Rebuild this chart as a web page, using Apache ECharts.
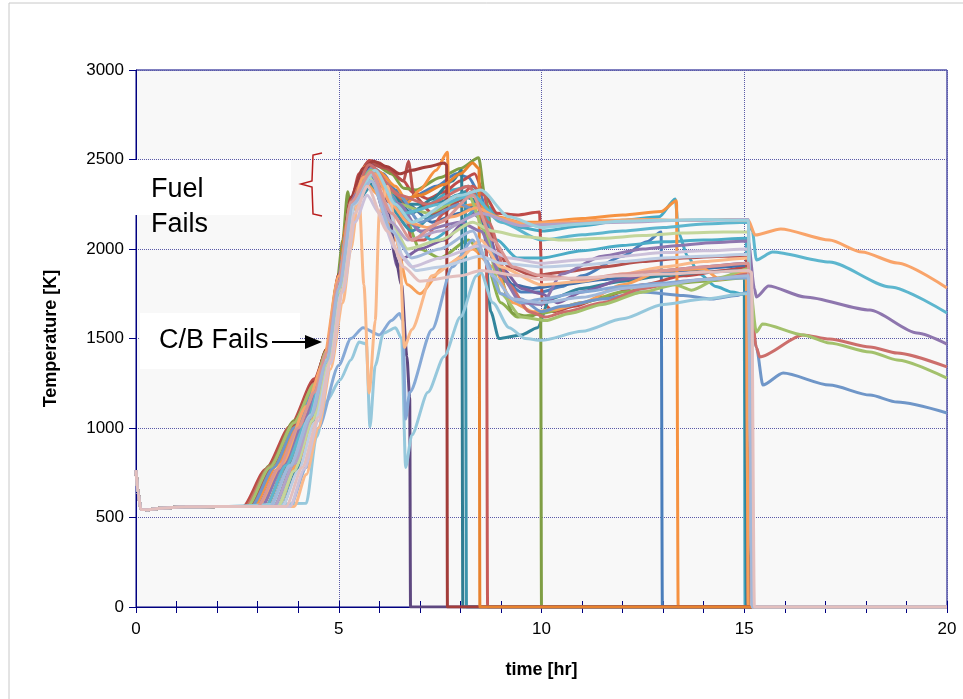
<!DOCTYPE html>
<html>
<head>
<meta charset="utf-8">
<script src="https://cdn.jsdelivr.net/npm/echarts@6/dist/echarts.min.js"></script>
<style>
  html, body { margin: 0; padding: 0; background: #fff; }
  #chart { width: 963px; height: 699px; }
</style>
</head>
<body>
<div id="chart"></div>
<script>
// time [hr], temperature [K]
const warmup = [[0, 765], [0.05, 640], [0.12, 545], [0.3, 543], [0.6, 552], [1.2, 560], [2.0, 561]];

const blueA = [[2.85,562],[3.4,790],[3.9,1010],[4.4,1230],[4.7,1420],[5.0,1850],[5.3,2280],[5.55,2420],[5.8,2460],[6.1,2420],[6.4,2330],[6.65,2270],[6.9,2300],[7.4,2350],[7.9,2420],[8.2,2400],[8.5,2300],[8.8,2000],[9.1,1820],[9.5,1760],[10.0,1760],[10.5,1790],[11.0,1850],[12.0,1960],[12.6,2040],[12.95,2095],[12.98,0],[20,0]];
const aquaA = [[3.1,562],[3.6,780],[4.1,1010],[4.5,1230],[4.8,1480],[5.1,1950],[5.35,2280],[5.7,2420],[6.0,2380],[6.4,2250],[6.7,2200],[7.2,2250],[7.8,2330],[8.2,2350],[8.6,2250],[9.0,2170],[9.5,2120],[10,2100],[11,2130],[12,2160],[12.9,2180],[13.3,2280],[13.38,2090],[13.6,1960],[13.9,1860],[14.3,1790],[14.7,1760],[15.0,1745],[15.02,0],[20,0]];
const redA = [[2.64,562],[3.2,770],[3.8,1010],[4.4,1275],[4.7,1430],[5.0,1830],[5.3,2260],[5.5,2420],[5.75,2495],[6.0,2480],[6.3,2420],[6.6,2380],[6.8,2320],[7.2,2280],[7.6,2320],[8.0,2380],[8.35,2420],[8.6,2300],[8.9,2200],[9.4,2190],[9.95,2207],[10.02,1700],[10.3,1650],[10.8,1680],[11.5,1730],[12.5,1800],[13.5,1850],[14.5,1880],[15.05,1900],[15.1,0],[20,0]];
const blueB = [[3.0,562],[3.5,770],[4.0,1000],[4.4,1200],[4.7,1410],[5.0,1820],[5.3,2260],[5.75,2440],[6.3,2300],[6.7,2250],[7.3,2150],[8.0,2200],[8.4,2250],[8.8,1950],[9.3,1800],[9.8,1780],[10.5,1800],[11.5,1830],[12.5,1850],[13.5,1880],[14.5,1900],[15.05,1910],[15.1,0],[20,0]];
const tealC = [[3.6,562],[4.0,780],[4.4,1040],[4.75,1360],[5.05,1780],[5.4,2260],[5.9,2380],[6.3,2300],[6.7,2250],[7.3,2250],[8.0,2300],[8.3,2280],[8.55,2200],[8.75,1650],[8.95,1500],[9.5,1520],[9.9,1560],[10.2,1720],[11,1780],[12,1820],[13,1850],[14,1870],[15.0,1880],[15.06,0],[20,0]];
const greenB = [[2.9,562],[3.45,790],[3.95,1020],[4.4,1230],[4.7,1420],[5.0,1830],[5.3,2270],[5.7,2430],[6.2,2350],[6.6,2200],[7.0,2000],[7.5,1950],[8.2,2050],[8.6,1950],[9.0,1700],[9.4,1620],[10.0,1640],[11,1700],[12,1760],[13,1800],[14,1820],[15.05,1840],[15.1,0],[20,0]];
const greenA = [[2.7,562],[3.3,790],[3.9,1040],[4.4,1250],[4.7,1440],[4.95,1800],[5.1,2050],[5.22,2320],[5.3,2200],[5.5,2380],[5.9,2470],[6.3,2420],[6.6,2340],[6.9,2330],[7.5,2400],[8.0,2450],[8.45,2510],[8.6,2300],[8.9,1900],[9.3,1640],[9.7,1620],[9.98,1645],[10.0,0],[20,0]];
const redB = [[3.4,562],[3.9,810],[4.35,1080],[4.7,1370],[5.0,1760],[5.35,2250],[5.9,2420],[6.3,2330],[6.6,2250],[6.8,2050],[7.1,2050],[7.6,2200],[8.0,2300],[8.3,2350],[8.6,2300],[8.64,2250],[8.67,0],[20,0]];
const purpleB = [[3.2,562],[3.7,790],[4.2,1040],[4.6,1300],[4.9,1650],[5.2,2150],[5.5,2330],[5.8,2400],[6.2,2150],[6.45,1900],[6.6,1950],[7.0,2000],[7.6,2050],[8.3,2200],[8.6,2150],[9.0,1900],[9.5,1780],[10,1750],[10.4,1700],[11,1760],[12,1830],[13,1880],[14,1900],[15.05,1920],[15.1,0],[20,0]];
const tealA = [[3.3,562],[3.8,800],[4.3,1080],[4.7,1380],[5.0,1760],[5.35,2250],[5.6,2360],[5.9,2400],[6.3,2300],[6.8,2200],[7.3,2280],[7.8,2380],[8.03,2440],[8.06,0],[20,0]];
const tealB = [[3.5,562],[4.0,820],[4.4,1060],[4.75,1380],[5.05,1800],[5.4,2250],[5.8,2350],[6.2,2250],[6.8,2100],[7.4,2200],[7.9,2300],[8.12,2320],[8.15,0],[20,0]];
const aquaB = [[3.4,562],[3.9,800],[4.35,1070],[4.7,1370],[5.0,1770],[5.35,2250],[5.8,2420],[6.3,2300],[6.7,2150],[7.3,2050],[8.0,2150],[8.5,2250],[8.9,2050],[9.4,1950],[10,1950],[11,1990],[12,2020],[13,2040],[14,2050],[15.05,2060],[15.1,0],[20,0]];
const redD = [[2.8,562],[3.35,780],[3.9,1020],[4.4,1250],[4.7,1430],[5.0,1850],[5.3,2280],[5.7,2480],[6.2,2450],[6.6,2380],[6.72,2490],[6.85,2300],[7.3,2200],[7.8,2250],[8.3,2320],[8.7,2100],[9.2,1900],[9.8,1850],[10.5,1870],[11.5,1900],[12.5,1930],[13.5,1950],[14.5,1960],[15.05,1960],[15.1,0],[20,0]];
const orangeC = [[3.5,562],[3.95,790],[4.4,1060],[4.75,1380],[5.05,1800],[5.35,2250],[5.6,2380],[6.0,2300],[6.4,2050],[6.7,1800],[7.0,1750],[7.6,1900],[8.3,2000],[8.8,1900],[9.3,1700],[9.8,1650],[10.3,1660],[11,1700],[12,1800],[13,1880],[14,1890],[14.4,1830],[15.05,1870],[15.1,0],[20,0]];
const orangeA = [[2.9,562],[3.5,800],[4.0,1010],[4.4,1210],[4.7,1410],[5.0,1820],[5.3,2270],[5.65,2460],[6.0,2430],[6.4,2350],[6.7,2260],[7.0,2330],[7.4,2440],[7.68,2540],[7.72,2230],[8.0,2240],[8.4,2250],[8.9,2180],[9.5,2150],[10,2150],[11,2170],[12,2190],[12.95,2210],[13.33,2270],[13.37,0],[20,0]];
const purpleA = [[3.0,562],[3.5,760],[4.0,990],[4.4,1190],[4.7,1400],[5.0,1800],[5.3,2250],[5.55,2420],[5.8,2470],[6.05,2400],[6.25,2200],[6.4,1950],[6.55,1800],[6.68,1400],[6.75,1170],[6.77,0],[20,0]];
const redC = [[2.75,562],[3.3,780],[3.9,1030],[4.4,1260],[4.7,1440],[5.0,1860],[5.3,2290],[5.6,2450],[5.85,2490],[6.2,2460],[6.5,2420],[6.8,2440],[7.2,2460],[7.6,2480],[7.66,2470],[7.68,0],[20,0]];
const orangeB = [[3.2,562],[3.7,790],[4.2,1040],[4.6,1300],[4.9,1650],[5.2,2150],[5.5,2350],[5.9,2420],[6.3,2330],[6.6,2280],[7.0,2300],[7.6,2360],[8.0,2420],[8.3,2480],[8.46,2450],[8.48,0],[20,0]];

// the six runs that last to 20 hr
const keepBlue = [[2.85,562],[3.4,780],[3.9,1000],[4.4,1220],[4.7,1410],[5.0,1820],[5.3,2260],[5.8,2450],[6.5,2300],[7.0,2150],[8.0,2250],[8.5,2200],[9.0,1850],[9.5,1720],[10,1650],[10.5,1680],[11.5,1720],[12.5,1760],[13.5,1740],[14.2,1720],[14.8,1740],[15.1,1760],[15.3,1450],[15.46,1240],[15.96,1307],[17.1,1240],[18.1,1184],[18.77,1145],[20,1084]];
const keepRed = [[2.7,562],[3.3,785],[3.9,1030],[4.4,1250],[4.7,1430],[5.0,1840],[5.3,2270],[5.75,2470],[6.5,2300],[7.2,2250],[8.2,2350],[8.7,2150],[9.2,1800],[9.7,1650],[10.1,1620],[10.6,1650],[11.5,1700],[12.5,1780],[13.5,1820],[14.5,1840],[15.1,1860],[15.3,1450],[15.38,1397],[16.45,1520],[17.1,1497],[18.1,1453],[18.77,1419],[20,1341]];
const keepGreen = [[2.75,562],[3.3,780],[3.9,1030],[4.4,1245],[4.7,1430],[5.0,1830],[5.3,2260],[5.8,2440],[6.5,2250],[7.2,2200],[8.2,2300],[8.6,2100],[9.0,1750],[9.5,1620],[10.1,1600],[10.7,1640],[11.5,1690],[12.5,1760],[13.3,1800],[13.7,1770],[14.4,1840],[15.1,1890],[15.3,1536],[15.45,1581],[16.45,1520],[17.1,1475],[18.1,1425],[18.77,1380],[20,1279]];
const keepPurple = [[3.1,562],[3.6,780],[4.1,1010],[4.5,1240],[4.8,1490],[5.1,1950],[5.4,2300],[5.85,2430],[6.5,2250],[7,2100],[8,2150],[8.5,2100],[9.0,1850],[9.5,1700],[10.0,1690],[10.5,1860],[11.5,1960],[12.5,2000],[13.4,2020],[14.2,2035],[15.1,2045],[15.25,1780],[15.3,1732],[15.6,1793],[16.5,1732],[18.1,1659],[19.26,1531],[20,1469]];
const keepAqua = [[3.2,562],[3.7,790],[4.2,1030],[4.6,1290],[4.9,1620],[5.2,2100],[5.5,2330],[5.9,2420],[6.6,2200],[7.5,2250],[8.3,2300],[9,2150],[10,2050],[11,2080],[12,2100],[13,2120],[14,2140],[15.1,2150],[15.2,2100],[15.3,1939],[15.7,1983],[17.1,1927],[18.6,1788],[20,1642]];
const keepOrange = [[3.0,562],[3.6,800],[4.2,1120],[4.6,1350],[5.0,1850],[5.3,2200],[5.6,2400],[5.9,2420],[6.3,2250],[6.7,2150],[7.2,2120],[7.8,2180],[8.4,2230],[9.0,2170],[9.6,2140],[10.5,2150],[11.5,2160],[12.5,2165],[13.5,2160],[14.5,2165],[15.1,2160],[15.27,2078],[15.9,2112],[17.1,2050],[17.9,1983],[18.77,1922],[20,1782]];

// pale runs drawn last
const skyLow = [[4.2,580],[4.45,950],[4.7,1150],[5.03,1268],[5.3,1380],[5.5,1480],[5.68,1470],[5.77,1005],[5.9,1350],[6.1,1530],[6.4,1560],[6.55,1500],[6.65,780],[6.8,960],[7.2,1200],[7.6,1400],[8.0,1620],[8.4,1850],[8.5,1870],[8.8,1700],[9.2,1560],[9.6,1500],[10.0,1490],[11,1540],[12,1610],[13,1690],[14,1720],[15,1750],[15.18,1750],[15.22,0],[20,0]];
const blueWiggle = [[3.8,562],[4.2,780],[4.5,1000],[5.0,1350],[5.3,1500],[5.6,1560],[6.0,1520],[6.3,1600],[6.5,1640],[6.58,1600],[6.65,1050],[6.75,1200],[7.3,1550],[7.8,1900],[8.3,2050],[8.6,1950],[9.0,1750],[9.5,1700],[10,1720],[11,1760],[12,1790],[13,1810],[14,1830],[15.1,1840],[15.2,0],[20,0]];
const peach = [[3.9,562],[4.2,740],[4.5,1000],[4.8,1330],[5.1,1700],[5.3,2000],[5.5,2300],[5.62,1800],[5.75,1195],[5.9,1600],[6.0,2200],[6.2,2350],[6.5,2000],[6.62,1450],[6.8,1550],[7.3,1850],[8.0,1950],[8.5,2050],[9.0,1900],[10,1800],[11,1820],[12,1860],[13,1900],[14,1930],[15.1,1950],[15.2,0],[20,0]];
const greyBlue = [[3.6,562],[4.0,760],[4.4,1030],[4.75,1350],[5.05,1750],[5.4,2250],[5.8,2380],[6.2,2250],[6.6,1950],[6.9,1880],[7.5,1900],[8.5,1960],[9.0,1920],[10,1900],[11,1910],[12,1930],[13,1950],[14,1960],[15.1,1970],[15.2,0],[20,0]];
const lavender = [[3.8,562],[4.15,770],[4.5,1040],[4.8,1360],[5.1,1760],[5.4,2150],[5.7,2300],[6.0,2200],[6.4,2000],[6.8,1900],[7.5,1950],[8.5,2020],[9.2,1950],[10,1920],[11,1940],[12,1960],[13,1980],[14,1990],[15.1,2000],[15.2,0],[20,0]];
const paleGreen = [[3.5,562],[3.9,760],[4.35,1040],[4.7,1350],[5.0,1760],[5.35,2250],[5.75,2400],[6.3,2150],[6.7,2000],[7.5,2050],[8.3,2150],[8.8,2100],[9.5,2070],[10.5,2050],[11.5,2060],[12.5,2075],[13.5,2090],[14.5,2095],[15.1,2095],[15.2,0],[20,0]];
const palePurple = [[3.4,562],[3.9,800],[4.35,1080],[4.7,1380],[5.0,1780],[5.35,2260],[5.8,2420],[6.3,2150],[6.7,2050],[7.5,2100],[8.5,2200],[9.5,2130],[10.5,2140],[12,2150],[13.5,2160],[15.1,2165],[15.2,0],[20,0]];
const paleAqua = [[3.3,562],[3.8,790],[4.3,1070],[4.7,1380],[5.0,1790],[5.35,2260],[5.9,2440],[6.4,2250],[6.8,2150],[8.0,2300],[8.5,2330],[9.2,2180],[10,2120],[11,2140],[12,2155],[13,2160],[14,2165],[15.1,2160],[15.2,0],[20,0]];
const paleRed = [[3.0,562],[3.5,770],[4.0,1000],[4.4,1200],[4.7,1420],[5.0,1820],[5.3,2260],[5.8,2430],[6.3,2200],[6.8,2050],[7.5,2150],[8.3,2300],[8.8,2050],[9.3,1900],[10,1850],[11,1830],[12,1860],[13,1880],[14,1900],[15.1,1920],[15.2,0],[20,0]];
const paleBlue = [[3.3,562],[3.8,790],[4.3,1060],[4.7,1370],[5.0,1780],[5.35,2250],[5.8,2380],[6.3,2100],[6.8,1950],[7.5,2000],[8.3,2100],[8.8,1850],[9.3,1720],[10,1700],[11,1730],[12,1780],[13,1800],[14,1830],[15.1,1850],[15.2,0],[20,0]];
const pink = [[3.7,562],[4.1,780],[4.5,1060],[4.8,1380],[5.1,1780],[5.4,2200],[5.7,2350],[6.2,2100],[6.6,1900],[7.0,1820],[8.0,1850],[8.5,1880],[9.5,1850],[10,1830],[11,1840],[12,1850],[13,1860],[14,1870],[15.1,1880],[15.18,1870],[15.25,0],[20,0]];

const runs = [
  ['blueA', blueA, '#4A7EBB'], ['aquaA', aquaA, '#46AAC5'], ['redA', redA, '#BE4B48'],
  ['blueB', blueB, '#3E6FAA'], ['tealC', tealC, '#31859C'], ['greenB', greenB, '#8DB04E'],
  ['greenA', greenA, '#7F9E44'], ['redB', redB, '#C75B58'], ['purpleB', purpleB, '#7D60A0'],
  ['tealA', tealA, '#2F7D92'], ['tealB', tealB, '#3B93AB'], ['aquaB', aquaB, '#4BACC6'],
  ['redD', redD, '#B5504D'], ['orangeC', orangeC, '#F7A05A'], ['orangeA', orangeA, '#F69240'],
  ['purpleA', purpleA, '#5E4880'], ['redC', redC, '#A33D3A'], ['orangeB', orangeB, '#E8822E'],
  ['keepBlue', keepBlue, '#6F96C8'], ['keepRed', keepRed, '#CC6E6B'], ['keepGreen', keepGreen, '#A3C16C'],
  ['keepPurple', keepPurple, '#8E76AE'], ['keepAqua', keepAqua, '#5DB6CE'], ['keepOrange', keepOrange, '#F9A46A'],
  ['skyLow', skyLow, '#96C8DC'], ['blueWiggle', blueWiggle, '#86A9D6'], ['peach', peach, '#FAB98A'],
  ['greyBlue', greyBlue, '#BDCDE3'], ['lavender', lavender, '#CCC1DA'], ['paleGreen', paleGreen, '#C3D69B'],
  ['palePurple', palePurple, '#B3A2C7'], ['paleAqua', paleAqua, '#9CCFDD'], ['paleRed', paleRed, '#D99694'],
  ['paleBlue', paleBlue, '#A1B8DA'], ['pink', pink, '#E3BFBE']
];

const chart = echarts.init(document.getElementById('chart'));
const font = 'Liberation Sans, Arial, sans-serif';

chart.setOption({
  animation: false,
  grid: {
    left: 136, right: 16, top: 70, bottom: 92,
    show: true, backgroundColor: '#F8F8F8', borderColor: '#000080', borderWidth: 1
  },
  xAxis: [{
    type: 'value', min: 0, max: 20, interval: 5,
    name: 'time [hr]', nameLocation: 'middle', nameGap: 54,
    nameTextStyle: { fontFamily: font, fontWeight: 'bold', fontSize: 18, color: '#000' },
    axisLine: { lineStyle: { color: '#000080', width: 1 } },
    axisTick: { length: 6, lineStyle: { color: '#000080' } },
    minorTick: { show: true, splitNumber: 5, length: 6, lineStyle: { color: '#000080' } },
    axisLabel: { fontFamily: font, fontSize: 17, color: '#000', margin: 14 },
    splitLine: { lineStyle: { color: '#5A5AA8', type: [1, 1], width: 1 } }
  }, {
    type: 'value', min: 0, max: 20, interval: 5, position: 'bottom',
    axisLine: { show: false },
    axisTick: { inside: true, length: 6, lineStyle: { color: '#000080' } },
    minorTick: { show: true, splitNumber: 5, length: 6, lineStyle: { color: '#000080' } },
    axisLabel: { show: false },
    splitLine: { show: false }
  }],
  yAxis: {
    type: 'value', min: 0, max: 3000, interval: 500,
    name: 'Temperature [K]', nameLocation: 'middle', nameGap: 76,
    nameTextStyle: { fontFamily: font, fontWeight: 'bold', fontSize: 18, color: '#000' },
    axisLine: { show: true, lineStyle: { color: '#000080', width: 1 } },
    axisTick: { show: true, length: 7, lineStyle: { color: '#000080' } },
    axisLabel: { fontFamily: font, fontSize: 17, color: '#000', margin: 12, formatter: v => String(v) },
    splitLine: { lineStyle: { color: '#5A5AA8', type: [1, 1], width: 1 } }
  },
  series: runs.map(([name, pts, color]) => ({
    name: name,
    type: 'line',
    xAxisIndex: 0,
    data: warmup.concat(pts),
    showSymbol: false,
    smooth: 0.25,
    smoothMonotone: 'x',
    lineStyle: { width: 3, color: color },
    itemStyle: { color: color }
  })),
  graphic: [
    { type: 'rect', z: 100, shape: { x: 9, y: 3, width: 1000, height: 800 },
      style: { fill: 'none', stroke: '#C8C8C8', lineWidth: 1 } },
    { type: 'rect', z: 100, shape: { x: 128, y: 160, width: 163, height: 55 }, style: { fill: '#fff' } },
    { type: 'text', z: 101, left: 151, top: 172,
      style: { text: 'Fuel\nFails', font: '27px ' + font, fill: '#000', lineHeight: 35 } },
    { type: 'polyline', z: 101,
      shape: { points: [[322, 153], [313, 155], [312, 181], [301, 184], [312, 187], [313, 214], [322, 216]] },
      style: { stroke: '#B81E1E', lineWidth: 1.5, fill: 'none' } },
    { type: 'rect', z: 100, shape: { x: 140, y: 313, width: 160, height: 56 }, style: { fill: '#fff' } },
    { type: 'text', z: 101, left: 159, top: 327,
      style: { text: 'C/B Fails', font: '27px ' + font, fill: '#000' } },
    { type: 'line', z: 102, shape: { x1: 272, y1: 342, x2: 308, y2: 342 },
      style: { stroke: '#000', lineWidth: 2 } },
    { type: 'polygon', z: 102, shape: { points: [[305, 335], [322, 342], [305, 349]] },
      style: { fill: '#000' } }
  ]
});
</script>
</body>
</html>
